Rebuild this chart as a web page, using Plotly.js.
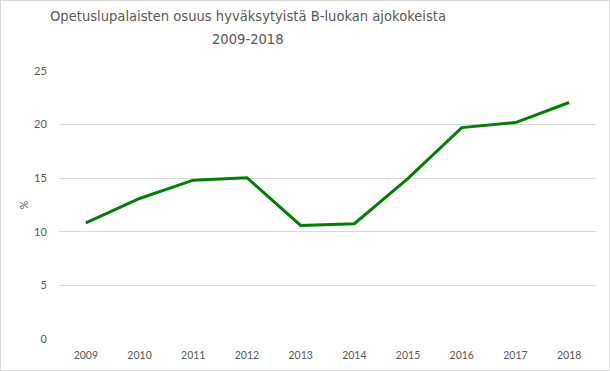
<!DOCTYPE html>
<html>
<head>
<meta charset="utf-8">
<script src="https://cdn.plot.ly/plotly-3.0.1.min.js"></script>
<style>
html,body{margin:0;padding:0;background:#fff;}
#wrap{position:relative;width:610px;height:371px;}
#chart{width:610px;height:371px;}
#border{position:absolute;left:0;top:0;width:608px;height:369px;border:1px solid #d9d9d9;pointer-events:none;}
</style>
</head>
<body>
<div id="wrap"><div id="chart"></div><div id="border"></div></div>
<script>
const years = ["2009","2010","2011","2012","2013","2014","2015","2016","2017","2018"];
const share = [10.84, 13.11, 14.82, 15.05, 10.59, 10.75, 14.98, 19.72, 20.19, 22.06];
const yTicks = [0, 5, 10, 15, 20, 25];
const titleLine1 = 'Opetuslupalaisten osuus hyväksytyistä B-luokan ajokokeista';
const titleLine2 = '2009-2018';

const font = "Lato, 'Open Sans', sans-serif";
const titleFont = "'DejaVu Sans Condensed', Lato, sans-serif";
Plotly.newPlot('chart', [{
  x: years, y: share, type: 'scatter', mode: 'lines',
  line: {color: '#008000', width: 3},
  hoverinfo: 'skip'
}], {
  width: 610, height: 371,
  margin: {l: 59, r: 14, t: 71, b: 32},
  paper_bgcolor: '#fff', plot_bgcolor: '#fff',
  showlegend: false,
  title: {
    text: titleLine1,
    font: {family: titleFont, size: 14.6, color: '#595959'},
    x: 248/610, xanchor: 'center', xref: 'container',
    y: 1 - 16/371, yanchor: 'middle', yref: 'container'
  },
  annotations: [{
    text: titleLine2, showarrow: false,
    xref: 'paper', yref: 'paper',
    x: (248 - 59) / (610 - 59 - 14), y: 1 + (71 - 38) / 268,
    xanchor: 'center', yanchor: 'middle',
    font: {family: titleFont, size: 14.6, color: '#595959'}
  }],
  xaxis: {
    type: 'category', range: [-0.5, 9.5], showgrid: false, zeroline: false, showline: false,
    ticks: 'outside', ticklen: 6, tickcolor: 'rgba(0,0,0,0)',
    tickfont: {family: font, size: 10.5, color: '#595959'},
    fixedrange: true
  },
  yaxis: {
    range: [0, 25], tickvals: yTicks, showgrid: true, gridcolor: '#d9d9d9', gridwidth: 1,
    zeroline: false, showline: false,
    ticks: 'outside', ticklen: 9, tickcolor: 'rgba(0,0,0,0)',
    tickfont: {family: font, size: 11, color: '#595959'},
    title: {text: '%', font: {family: font, size: 10.5, color: '#595959'}, standoff: 3},
    fixedrange: true
  }
}, {displayModeBar: false, staticPlot: true});
</script>
</body>
</html>
